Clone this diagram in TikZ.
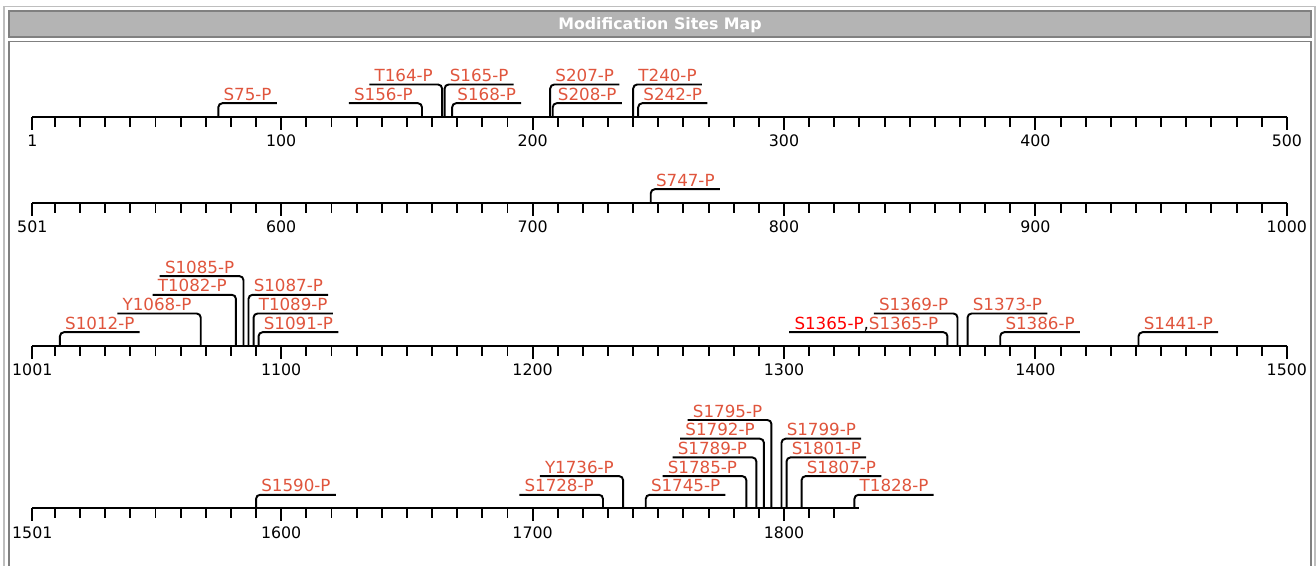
\documentclass[tikz,border=0pt]{standalone}
\usepackage{fontspec}
\usepackage{xcolor}
\usepackage{tikz}
\usetikzlibrary{positioning,calc}
\newfontfamily\mapfont{DejaVu Sans}

\definecolor{sitered}{HTML}{E0553D}
\definecolor{framegray}{HTML}{808080}
\definecolor{bargray}{HTML}{B4B4B4}
\definecolor{outergray}{HTML}{BEBEBE}

\tikzset{
  axis/.style={line width=1.1pt},
  stem/.style={line width=1.1pt, rounded corners=2.3pt},
  site/.style={text=sitered, font=\mapfont\fontsize{9.5}{11}\selectfont, inner xsep=2.8pt, inner ysep=1.4pt, text depth=0pt},
  siteR/.style={site, anchor=south west},
  siteL/.style={site, anchor=south east, xshift=-2.3pt},
  num/.style={font=\mapfont\fontsize{9}{11}\selectfont, inner sep=0pt, anchor=base},
  seqrow/.style 2 args={shift={({0.646cm-#1*0.0503cm},{#2*0.02cm})}, x=0.0503cm, y=0.02cm},
}

\begin{document}
\begin{tikzpicture}[x=0.02cm, y=0.02cm]
\useasboundingbox (0,0) rectangle (1316,565);
\clip (0,0) rectangle (1316,565);
\fill[white] (0,0) rectangle (1316,565);
\draw[outergray, line width=1.1pt] (4,-5) |- (1315,558.5) -- (1315,-5);
\draw[framegray, fill=bargray, line width=1.1pt] (9,554) rectangle (1311,528);
\node[font=\mapfont\bfseries\fontsize{9}{11}\selectfont, text=white, anchor=base, inner sep=0pt] (title) at (660,535) {Modification Sites Map};
\draw[framegray, line width=1.1pt] (9,-5) |- (1311,523.5) -- (1311,-5);

% 1-500
\begin{scope}[seqrow={1}{448.3}]
\draw[axis] (1,0) coordinate (a1) -- (500,0) coordinate (b1);
\foreach \t in {10,20,...,490} \draw[axis] (\t,0) -- (\t,-10);
\foreach \t in {1,100,200,300,400,500} {
  \draw[axis] (\t,0) -- (\t,-13);
  \node[num] (n\t) at (\t,-30) {\t};
}
\foreach \v/\k/\r in {75/1/S,165/2/S,168/1/S,207/2/S,208/1/S,240/2/T,242/1/S} {
  \pgfmathsetmacro\h{13.5+(\k-1)*18.7}
  \coordinate (p\v) at (\v,0);
  \node[siteR] (s\v) at (\v,\h) {\r\v-P};
  \draw[stem] (p\v) |- (s\v.south east);
}
\foreach \v/\k/\r in {156/1/S,164/2/T} {
  \pgfmathsetmacro\h{13.5+(\k-1)*18.7}
  \coordinate (p\v) at (\v,0);
  \node[siteL] (s\v) at (\v,\h) {\r\v-P};
  \draw[stem] (p\v) |- (s\v.south west);
}
\end{scope}

% 501-1000
\begin{scope}[seqrow={501}{362.3}]
\draw[axis] (501,0) coordinate (a2) -- (1000,0) coordinate (b2);
\foreach \t in {510,520,...,990} \draw[axis] (\t,0) -- (\t,-10);
\foreach \t in {501,600,700,800,900,1000} {
  \draw[axis] (\t,0) -- (\t,-13);
  \node[num] (n\t) at (\t,-30) {\t};
}
\coordinate (p747) at (747,0);
\node[siteR] (s747) at (747,13.5) {S747-P};
\draw[stem] (p747) |- (s747.south east);
\end{scope}

% 1001-1500
\begin{scope}[seqrow={1001}{219.3}]
\draw[axis] (1001,0) coordinate (a3) -- (1500,0) coordinate (b3);
\foreach \t in {1010,1020,...,1490} \draw[axis] (\t,0) -- (\t,-10);
\foreach \t in {1001,1100,1200,1300,1400,1500} {
  \draw[axis] (\t,0) -- (\t,-13);
  \node[num] (n\t) at (\t,-30) {\t};
}
\foreach \v/\k/\r in {1012/1/S,1087/3/S,1089/2/T,1091/1/S,1373/2/S,1386/1/S,1441/1/S} {
  \pgfmathsetmacro\h{13.5+(\k-1)*18.7}
  \coordinate (p\v) at (\v,0);
  \node[siteR] (s\v) at (\v,\h) {\r\v-P};
  \draw[stem] (p\v) |- (s\v.south east);
}
\foreach \v/\k/\r in {1068/2/Y,1082/3/T,1085/4/S,1369/2/S} {
  \pgfmathsetmacro\h{13.5+(\k-1)*18.7}
  \coordinate (p\v) at (\v,0);
  \node[siteL] (s\v) at (\v,\h) {\r\v-P};
  \draw[stem] (p\v) |- (s\v.south west);
}
\coordinate (p1365) at (1365,0);
\node[siteL] (s1365) at (1365,13.5) {\textcolor{red}{S1365-P}\textcolor{black}{,}S1365-P};
\draw[stem] (p1365) |- (s1365.south west);
\end{scope}

% 1501-1830
\begin{scope}[seqrow={1501}{56.7}]
\draw[axis] (1501,0) coordinate (a4) -- (1830,0) coordinate (b4);
\foreach \t in {1510,1520,...,1820} \draw[axis] (\t,0) -- (\t,-10);
\foreach \t in {1501,1600,1700,1800} {
  \draw[axis] (\t,0) -- (\t,-13);
  \node[num] (n\t) at (\t,-30) {\t};
}
\foreach \v/\k/\r in {1590/1/S,1745/1/S,1799/4/S,1801/3/S,1807/2/S,1828/1/T} {
  \pgfmathsetmacro\h{13.5+(\k-1)*18.7}
  \coordinate (p\v) at (\v,0);
  \node[siteR] (s\v) at (\v,\h) {\r\v-P};
  \draw[stem] (p\v) |- (s\v.south east);
}
\foreach \v/\k/\r in {1728/1/S,1736/2/Y,1785/2/S,1789/3/S,1792/4/S,1795/5/S} {
  \pgfmathsetmacro\h{13.5+(\k-1)*18.7}
  \coordinate (p\v) at (\v,0);
  \node[siteL] (s\v) at (\v,\h) {\r\v-P};
  \draw[stem] (p\v) |- (s\v.south west);
}
\end{scope}
\end{tikzpicture}
\end{document}
